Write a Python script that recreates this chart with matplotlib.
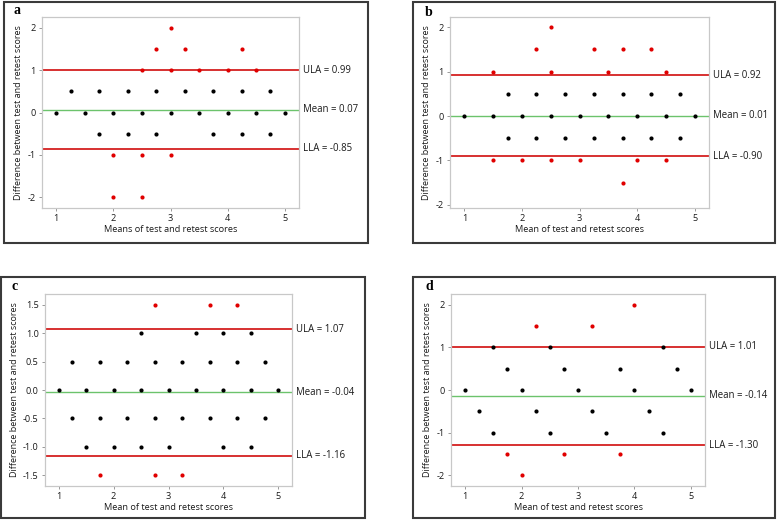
import numpy as np
import matplotlib
matplotlib.use("Agg")
import matplotlib.pyplot as plt
from matplotlib.patches import Rectangle
import matplotlib.transforms as mtransforms

plt.rcParams['font.family'] = ['Open Sans', 'DejaVu Sans']

W, H = 778, 521

# panel a
a_black_x = [1.25, 1.75, 2.25, 2.75, 3.25, 3.75, 4.25, 4.75,
             1, 1.5, 2, 2.5, 3, 3.5, 4, 4.5, 5,
             1.75, 2.25, 2.75, 3.75, 4.25, 4.75]
a_black_y = [0.5] * 8 + [0] * 9 + [-0.5] * 6
a_red_x = [3, 2.75, 3.25, 4.25, 2.5, 3, 3.5, 4, 4.5, 2, 2.5, 3, 2, 2.5]
a_red_y = [2, 1.5, 1.5, 1.5, 1, 1, 1, 1, 1, -1, -1, -1, -2, -2]
a_limits = [0.99, 0.07, -0.85]

# panel b
b_black_x = [1.75, 2.25, 2.75, 3.25, 3.75, 4.25, 4.75,
             1, 1.5, 2, 2.5, 3, 3.5, 4, 4.5, 5,
             1.75, 2.25, 2.75, 3.25, 3.75, 4.25, 4.75]
b_black_y = [0.5] * 7 + [0] * 9 + [-0.5] * 7
b_red_x = [2.5, 2.25, 3.25, 3.75, 4.25, 1.5, 2.5, 3.5, 4.5,
           1.5, 2, 2.5, 3, 4, 4.5, 3.75]
b_red_y = [2, 1.5, 1.5, 1.5, 1.5, 1, 1, 1, 1,
           -1, -1, -1, -1, -1, -1, -1.5]
b_limits = [0.92, 0.01, -0.90]

# panel c
c_black_x = [2.5, 3.5, 4, 4.5,
             1.25, 1.75, 2.25, 2.75, 3.25, 3.75, 4.25, 4.75,
             1, 1.5, 2, 2.5, 3, 3.5, 4, 4.5, 5,
             1.25, 1.75, 2.25, 2.75, 3.25, 3.75, 4.25, 4.75,
             1.5, 2, 2.5, 3, 4, 4.5]
c_black_y = [1] * 4 + [0.5] * 8 + [0] * 9 + [-0.5] * 8 + [-1] * 6
c_red_x = [2.75, 3.75, 4.25, 1.75, 2.75, 3.25]
c_red_y = [1.5, 1.5, 1.5, -1.5, -1.5, -1.5]
c_limits = [1.07, -0.04, -1.16]

# panel d
d_black_x = [1.5, 2.5, 4.5,
             1.75, 2.75, 3.75, 4.75,
             1, 2, 3, 4, 5,
             1.25, 2.25, 3.25, 4.25,
             1.5, 2.5, 3.5, 4.5]
d_black_y = [1] * 3 + [0.5] * 4 + [0] * 5 + [-0.5] * 4 + [-1] * 4
d_red_x = [4, 2.25, 3.25, 1.75, 2.75, 3.75, 2]
d_red_y = [2, 1.5, 1.5, -1.5, -1.5, -1.5, -2]
d_limits = [1.01, -0.14, -1.30]

panels = [
    dict(letter='a', bx=a_black_x, by=a_black_y, rx=a_red_x, ry=a_red_y, lim=a_limits,
         axbox=(42, 17, 299, 208), frame=(4, 2, 368, 243), letpos=(17, 11),
         ylim=(-2.25, 2.25), yticks=[-2, -1, 0, 1, 2], fmt='%d',
         xlabel='Means of test and retest scores'),
    dict(letter='b', bx=b_black_x, by=b_black_y, rx=b_red_x, ry=b_red_y, lim=b_limits,
         axbox=(450, 17, 709, 208), frame=(413, 2, 775, 243), letpos=(429, 12),
         ylim=(-2.07, 2.23), yticks=[-2, -1, 0, 1, 2], fmt='%d',
         xlabel='Mean of test and retest scores'),
    dict(letter='c', bx=c_black_x, by=c_black_y, rx=c_red_x, ry=c_red_y, lim=c_limits,
         axbox=(45, 294, 292, 486), frame=(1, 277, 365, 518), letpos=(15, 286),
         ylim=(-1.69, 1.69), yticks=[-1.5, -1.0, -0.5, 0.0, 0.5, 1.0, 1.5], fmt='%.1f',
         xlabel='Mean of test and retest scores'),
    dict(letter='d', bx=d_black_x, by=d_black_y, rx=d_red_x, ry=d_red_y, lim=d_limits,
         axbox=(451, 294, 705, 486), frame=(413, 277, 775, 518), letpos=(429, 286),
         ylim=(-2.25, 2.25), yticks=[-2, -1, 0, 1, 2], fmt='%d',
         xlabel='Mean of test and retest scores'),
]

fig = plt.figure(figsize=(W / 100, H / 100), dpi=100)

for p in panels:
    # outer frame
    fx0, fy0, fx1, fy1 = p['frame']
    fig.patches.append(Rectangle((fx0 / W, 1 - fy1 / H), (fx1 - fx0) / W, (fy1 - fy0) / H,
                                 transform=fig.transFigure, fill=False,
                                 edgecolor='#3a3a3a', linewidth=1.5))
    fig.text(p['letpos'][0] / W, 1 - p['letpos'][1] / H, p['letter'],
             family=['Liberation Serif', 'DejaVu Serif'], fontweight='bold',
             fontsize=10, ha='center', va='center')

    x0, y0, x1, y1 = p['axbox']
    ax = fig.add_axes([x0 / W, 1 - y1 / H, (x1 - x0) / W, (y1 - y0) / H])
    ax.set_xlim(0.75, 5.25)
    ax.set_ylim(*p['ylim'])
    ax.set_xticks([1, 2, 3, 4, 5])
    ax.set_yticks(p['yticks'])
    ax.set_yticklabels([p['fmt'] % v for v in p['yticks']])
    for s in ax.spines.values():
        s.set_color('#c8c8c8')
        s.set_linewidth(0.9)
    ax.tick_params(length=2.5, width=0.6, color='#888888', labelsize=6.6, pad=2,
                   labelcolor='#1a1a1a')

    ula, mean, lla = p['lim']
    ax.axhline(ula, color='#d42020', lw=1.3, zorder=1)
    ax.axhline(lla, color='#d42020', lw=1.3, zorder=1)
    ax.axhline(mean, color='#6cc36c', lw=1.0, zorder=1)

    ax.scatter(p['bx'], p['by'], s=9, color='black', zorder=3, linewidths=0)
    ax.scatter(p['rx'], p['ry'], s=9, color='#e00000', zorder=3, linewidths=0)

    trans = mtransforms.blended_transform_factory(ax.transAxes, ax.transData)
    for val, name in [(ula, 'ULA'), (mean, 'Mean'), (lla, 'LLA')]:
        ax.text(1.015, val, '%s = %.2f' % (name, val), transform=trans,
                fontsize=6.9, va='center', color='#1a1a1a')

    ax.set_xlabel(p['xlabel'], fontsize=6.6, labelpad=1, color='#1a1a1a')
    ax.set_ylabel('Difference between test and retest scores', fontsize=6.5,
                  labelpad=3, color='#1a1a1a')

fig.savefig('out.png', dpi=100)
